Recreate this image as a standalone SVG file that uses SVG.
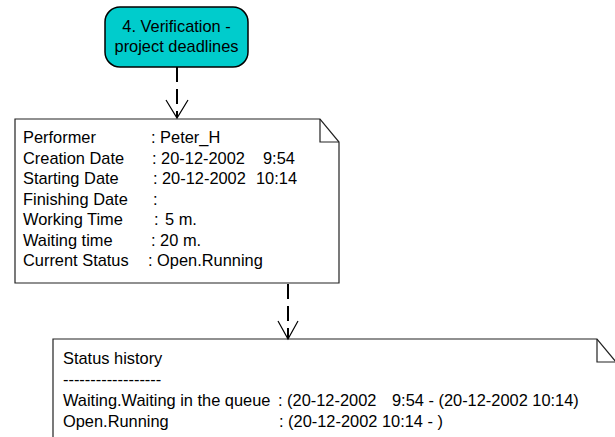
<svg xmlns="http://www.w3.org/2000/svg" width="615" height="437" viewBox="0 0 615 437">
<style>
text{font-family:"Liberation Sans",Arial,sans-serif;font-size:16.4px;fill:#000}
.box{fill:#fff;stroke:#222;stroke-width:1.2}
.fold{fill:none;stroke:#222;stroke-width:1.2}
.conn{fill:none;stroke:#000;stroke-width:2;stroke-dasharray:15 7}
.head{fill:none;stroke:#000;stroke-width:1.2}
</style>
<rect width="615" height="437" fill="#fff"/>
<g id="node-verification">
<rect x="105" y="7" width="143" height="60" rx="15" ry="15" fill="#00CCCC" stroke="#000" stroke-width="1.5"/>
<text x="176.5" y="32" text-anchor="middle">4. Verification -</text>
<text x="176.5" y="52" text-anchor="middle">project deadlines</text>
</g>
<g id="node-details">
<path class="box" d="M15,119 H320 L339,142 V283 H15 Z"/>
<path class="fold" d="M320,119 V142 H339"/>
<text y="143"><tspan x="23">Performer</tspan><tspan x="151">: Peter_H</tspan></text>
<text y="163.5"><tspan x="23">Creation Date</tspan><tspan x="152">: 20-12-2002</tspan><tspan x="263">9:54</tspan></text>
<text y="184"><tspan x="23">Starting Date</tspan><tspan x="153">:</tspan><tspan x="162">20-12-2002</tspan><tspan x="256">10:14</tspan></text>
<text y="204.5"><tspan x="23">Finishing Date</tspan><tspan x="153">:</tspan></text>
<text y="225"><tspan x="23">Working Time</tspan><tspan x="154">:</tspan><tspan x="165">5 m.</tspan></text>
<text y="245.5"><tspan x="23">Waiting time</tspan><tspan x="151">: 20 m.</tspan></text>
<text y="266"><tspan x="23">Current Status</tspan><tspan x="148">: Open.Running</tspan></text>
</g>
<g id="node-history">
<path class="box" d="M53,339 H597 L616,362 V445 H53 Z"/>
<path class="fold" d="M597,339 V362 H616"/>
<text x="63" y="364">Status history</text>
<text x="63" y="385">------------------</text>
<text y="406"><tspan x="63">Waiting.Waiting in the queue</tspan><tspan x="278">: (20-12-2002</tspan><tspan x="392">9:54 - (20-12-2002 10:14)</tspan></text>
<text y="427"><tspan x="63">Open.Running</tspan><tspan x="279">: (20-12-2002 10:14 - )</tspan></text>
</g>
<g id="connectors">
<line class="conn" x1="177" y1="67" x2="177" y2="117"/>
<polyline class="head" points="166,100 177,118 188,100"/>
<line class="conn" x1="288" y1="284" x2="288" y2="338"/>
<polyline class="head" points="278,321 288,339 298,321"/>
</g>
</svg>
